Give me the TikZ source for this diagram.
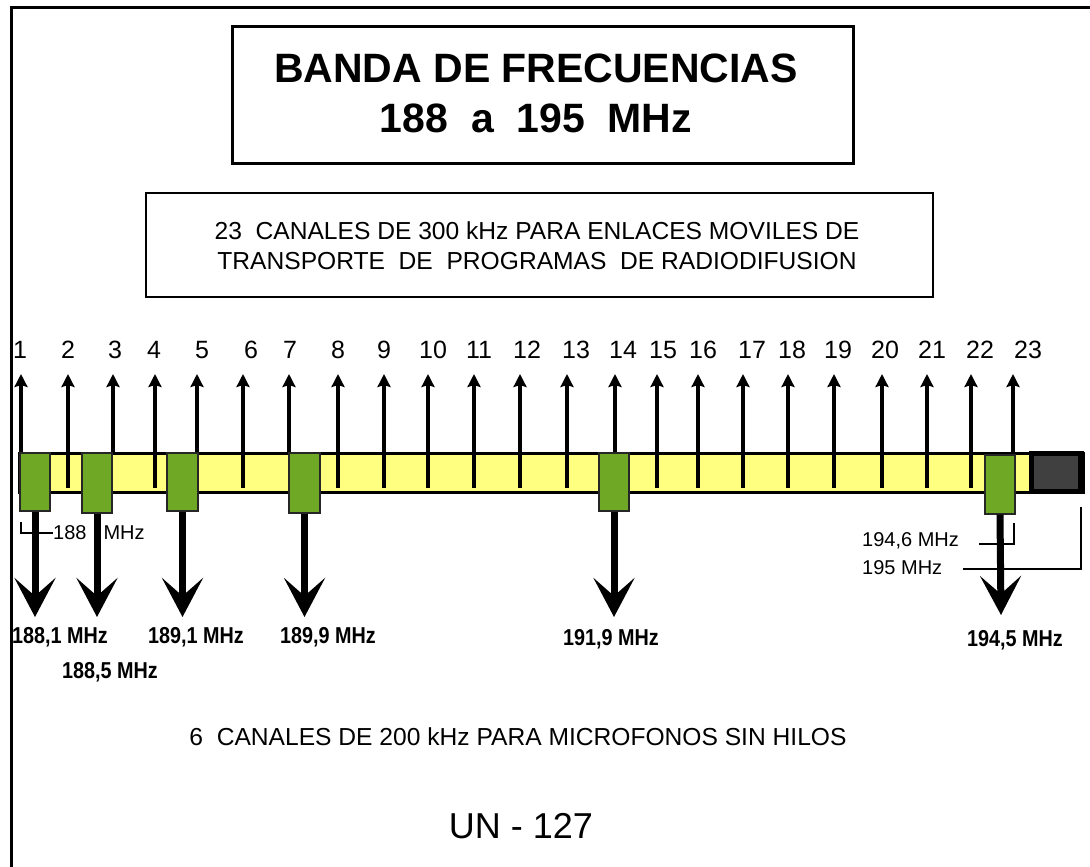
\documentclass[tikz,border=0pt]{standalone}
\usepackage{fontspec}
\setmainfont{Liberation Sans}
\newfontfamily\nb{Liberation Sans}[FakeStretch=0.86]
\usetikzlibrary{arrows.meta}
\definecolor{barYellow}{HTML}{FFFF80}
\definecolor{boxGreen}{HTML}{6EA824}
\definecolor{blockGray}{HTML}{404040}
\begin{document}
\begin{tikzpicture}[x=1pt,y=-1pt,
 frameline/.style={line width=3pt},
 upar/.style={line width=3.6pt,-{Stealth[length=13pt,width=13pt,inset=2pt]}},
 downar/.style={line width=7pt,-{Stealth[length=39pt,width=41pt,inset=18pt]}},
 greenbox/.style={draw=black!85,line width=1.2pt,fill=boxGreen,minimum width=30pt,inner sep=0pt},
 chlabel/.style={font=\fontsize{25}{25}\selectfont,inner sep=0pt},
 freqlabel/.style={font=\nb\bfseries\fontsize{23}{24}\selectfont,inner sep=0pt},
 smalllabel/.style={font=\fontsize{20}{20}\selectfont,inner sep=0pt,anchor=west},
 thinline/.style={line width=1.3pt},
 textline/.style={inner sep=0pt,align=center}
]
\useasboundingbox (0,0) rectangle (1090,867);
% outer frame (open to the right and bottom)
\coordinate (fA) at (11.5,867);
\coordinate (fB) at (11.5,7.5);
\coordinate (fC) at (1090,7.5);
\draw[frameline] (fA) -- (fB) -- (fC);
% title
\node[draw,line width=3pt,minimum width=621pt,minimum height=136pt] (title) at (542.5,95) {};
\node[textline,font=\bfseries\fontsize{41}{50}\selectfont] (titletext) at (536,93) {BANDA DE FRECUENCIAS\\188~~a~~195~~MHz};
% subtitle box
\node[draw,line width=1.5pt,minimum width=787pt,minimum height=104pt] (sub) at (539.5,245) {};
\node[textline,font=\fontsize{24.6}{30}\selectfont] (subtext) at (537,246) {23~~CANALES DE 300 kHz PARA ENLACES MOVILES DE\\TRANSPORTE~~DE~~PROGRAMAS~~DE RADIODIFUSION};
% bar
\node[draw,line width=3.5pt,fill=barYellow,minimum width=1063pt,minimum height=39pt,inner sep=0pt] (bar) at (551.5,473) {};
\node[fill=black,minimum width=55pt,minimum height=43pt,inner sep=0pt] (blk) at (1056.5,472.5) {};
\node[fill=blockGray,minimum width=44pt,minimum height=33pt,inner sep=0pt] (blkin) at (1056,472.5) {};
% channel arrows
\foreach \i/\x/\lx/\b in {1/21/20/453,2/68/68/488,3/113/115/453,4/155/154/488,5/197/202/453,6/243/251/488,7/289/290/453,8/338/338/488,9/384/384/488,10/428/433/488,11/474/479/488,12/520/527/488,13/567/576/488,14/615/623/453,15/657/663/488,16/698/703/488,17/743/752/488,18/788/792/488,19/834/838/488,20/882/885/488,21/927/932/488,22/971/980/488,23/1013/1028/453}{
  \coordinate (cb\i) at (\x,\b);
  \coordinate (ct\i) at (\x,374);
  \draw[upar] (cb\i) -- (ct\i);
  \node[chlabel] (cl\i) at (\lx,350) {\i};
}
% green boxes
\node[greenbox,minimum height=58pt] (g1) at (35,482) {};
\node[greenbox,minimum height=60pt] (g2) at (97,483) {};
\node[greenbox,minimum width=31pt,minimum height=58pt] (g3) at (182.5,482) {};
\node[greenbox,minimum width=31pt,minimum height=60pt] (g4) at (304.5,483) {};
\node[greenbox,minimum height=58pt] (g5) at (614,482) {};
\node[greenbox,minimum height=59pt] (g6) at (1000,484.5) {};
% small labels and brackets
\coordinate (k1) at (21,522);
\coordinate (k2) at (21,533);
\node[smalllabel] (l188) at (53,533) {188\hspace{17pt}MHz};
\draw[thinline] (k1) -- (k2) -- (l188.west);
\node[smalllabel] (l1946) at (862,541) {194,6 MHz};
\node[smalllabel] (l195) at (862,568) {195 MHz};
\coordinate (m1) at (979,544);
\coordinate (m2) at (1014,544);
\coordinate (m3) at (1014,523);
\draw[thinline] (m1) -- (m2) -- (m3);
\coordinate (p1) at (963,569);
\coordinate (p2) at (1081,569);
\coordinate (p3) at (1081,507);
\draw[thinline] (p1) -- (p2) -- (p3);
% down arrows
\coordinate (d1) at (35,617);
\coordinate (d2) at (97,617);
\coordinate (d3) at (182.5,617);
\coordinate (d4) at (304.5,617);
\coordinate (d5) at (614,617);
\coordinate (d6) at (1001,615);
\foreach \i in {1,...,6}{\draw[downar] (g\i.south) -- (d\i);}
% frequency labels
\node[freqlabel] (f1) at (60,637) {188,1 MHz};
\node[freqlabel] (f2) at (110,672) {188,5 MHz};
\node[freqlabel] (f3) at (196,637) {189,1 MHz};
\node[freqlabel] (f4) at (328,637) {189,9 MHz};
\node[freqlabel] (f5) at (611,639) {191,9 MHz};
\node[freqlabel] (f6) at (1015,640) {194,5 MHz};
% bottom texts
\node[textline,font=\fontsize{24.6}{24.6}\selectfont] (mic) at (518,737) {6~~CANALES DE 200 kHz PARA MICROFONOS SIN HILOS};
\node[textline,font=\fontsize{36}{36}\selectfont] (un) at (521,826) {UN - 127};
\end{tikzpicture}
\end{document}
